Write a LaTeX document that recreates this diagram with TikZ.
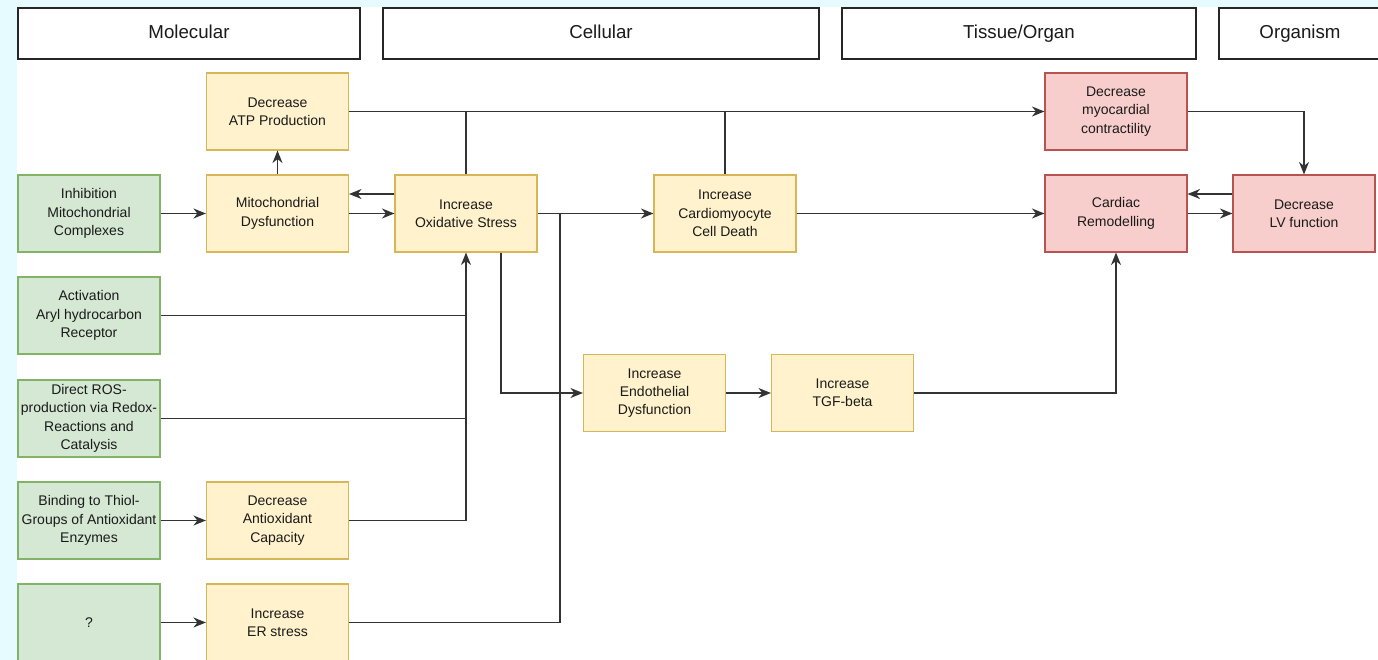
\documentclass[tikz,border=0pt]{standalone}
\usepackage{fontspec}
\setmainfont{Liberation Sans}
\usetikzlibrary{arrows.meta,calc}
\definecolor{bgcyan}{HTML}{E6FBFF}
\definecolor{grfill}{HTML}{D5E8D4}
\definecolor{grline}{HTML}{82B366}
\definecolor{yefill}{HTML}{FFF2CC}
\definecolor{yeline}{HTML}{D6B656}
\definecolor{rdfill}{HTML}{F8CECC}
\definecolor{rdline}{HTML}{B85450}
\definecolor{conn}{HTML}{333333}
\definecolor{txt}{HTML}{1A1A1A}
\tikzset{
  base/.style={draw, line width=1.1pt, minimum width=142pt, minimum height=77pt, inner sep=0pt, align=center, text=txt, font=\fontsize{14}{18.3}\selectfont},
  gbox/.style={base, fill=grfill, draw=grline},
  ybox/.style={base, fill=yefill, draw=yeline},
  rbox/.style={base, fill=rdfill, draw=rdline},
  hdr/.style={draw=black!85, fill=white, line width=1.3pt, minimum height=51pt, inner sep=0pt, text=txt, text height=13.5pt, text depth=3pt, font=\fontsize{18.7}{22}\selectfont},
  ln/.style={draw=conn, line width=1.4pt},
  arr/.style={ln, -{Stealth[length=12.5pt,width=10pt,inset=4pt]}},
}
\begin{document}
\begin{tikzpicture}[x=1pt,y=-1pt]
\useasboundingbox (0,0) rectangle (1378,660);
\clip (0,0) rectangle (1378,660);
\fill[bgcyan] (0,0) rectangle (1378,660);
\fill[white] (17,7) rectangle (1378,660);

% headers
\node[hdr, minimum width=342pt] (hmol) at (189,33.5) {Molecular};
\node[hdr, minimum width=436pt] (hcel) at (601,33.5) {Cellular};
\node[hdr, minimum width=354pt] (htis) at (1019,33.5) {Tissue/Organ};
\node[hdr, minimum width=162pt] (horg) at (1300,33.5) {Organism};

% green boxes
\node[gbox] (inh) at (89,213.5) {Inhibition\\Mitochondrial\\Complexes};
\node[gbox] (act) at (89,315.5) {Activation\\Aryl hydrocarbon\\Receptor};
\node[gbox] (ros) at (89,418.5) {Direct ROS-\\production via Redox-\\Reactions and\\Catalysis};
\node[gbox] (bind) at (89,520.5) {Binding to Thiol-\\Groups of Antioxidant\\Enzymes};
\node[gbox] (q) at (89,622.5) {?};

% yellow boxes
\node[ybox] (atp) at (277.5,111.5) {Decrease\\ATP Production};
\node[ybox] (mito) at (277.5,213.5) {Mitochondrial\\Dysfunction};
\node[ybox] (antiox) at (277.5,520.5) {Decrease\\Antioxidant\\Capacity};
\node[ybox] (er) at (277.5,622.5) {Increase\\ER stress};
\node[ybox] (ox) at (466,213.5) {Increase\\Oxidative Stress};
\node[ybox] (cmd) at (725,213.5) {Increase\\Cardiomyocyte\\Cell Death};
\node[ybox] (endo) at (654.5,393) {Increase\\Endothelial\\Dysfunction};
\node[ybox] (tgf) at (842.5,393) {Increase\\TGF-beta};

% red boxes
\node[rbox] (myo) at (1116,111.5) {Decrease\\myocardial\\contractility};
\node[rbox] (rem) at (1116,213.5) {Cardiac\\Remodelling};
\node[rbox] (lv) at (1304,213.5) {Decrease\\LV function};

\coordinate (erj) at (560,213.5);

% connectors
\draw[arr] (inh.east) -- (mito.west);
\draw[arr] (mito.north) -- (atp.south);
\draw[arr] (mito.east) -- (ox.west);
\draw[arr] ([yshift=19.5pt]ox.west) -- ([yshift=19.5pt]mito.east);
\draw[arr] (atp.east) -- (myo.west);
\draw[ln] (ox.north) -- (ox.north |- atp.east);
\draw[ln] (cmd.north) -- (cmd.north |- atp.east);
\draw[arr] (myo.east) -| (lv.north);
\draw[arr] (ox.east) -- (cmd.west);
\draw[arr] (cmd.east) -- (rem.west);
\draw[arr] (rem.east) -- (lv.west);
\draw[arr] ([yshift=19.5pt]lv.west) -- ([yshift=19.5pt]rem.east);
\draw[ln] (act.east) -- (act.east -| ox.south);
\draw[ln] (ros.east) -- (ros.east -| ox.south);
\draw[arr] (antiox.east) -| (ox.south);
\draw[arr] (bind.east) -- (antiox.west);
\draw[arr] (q.east) -- (er.west);
\draw[ln] (er.east) -| (erj);
\draw[arr] ([xshift=35pt]ox.south) |- (endo.west);
\draw[arr] (endo.east) -- (tgf.west);
\draw[arr] (tgf.east) -| (rem.south);
\end{tikzpicture}
\end{document}
